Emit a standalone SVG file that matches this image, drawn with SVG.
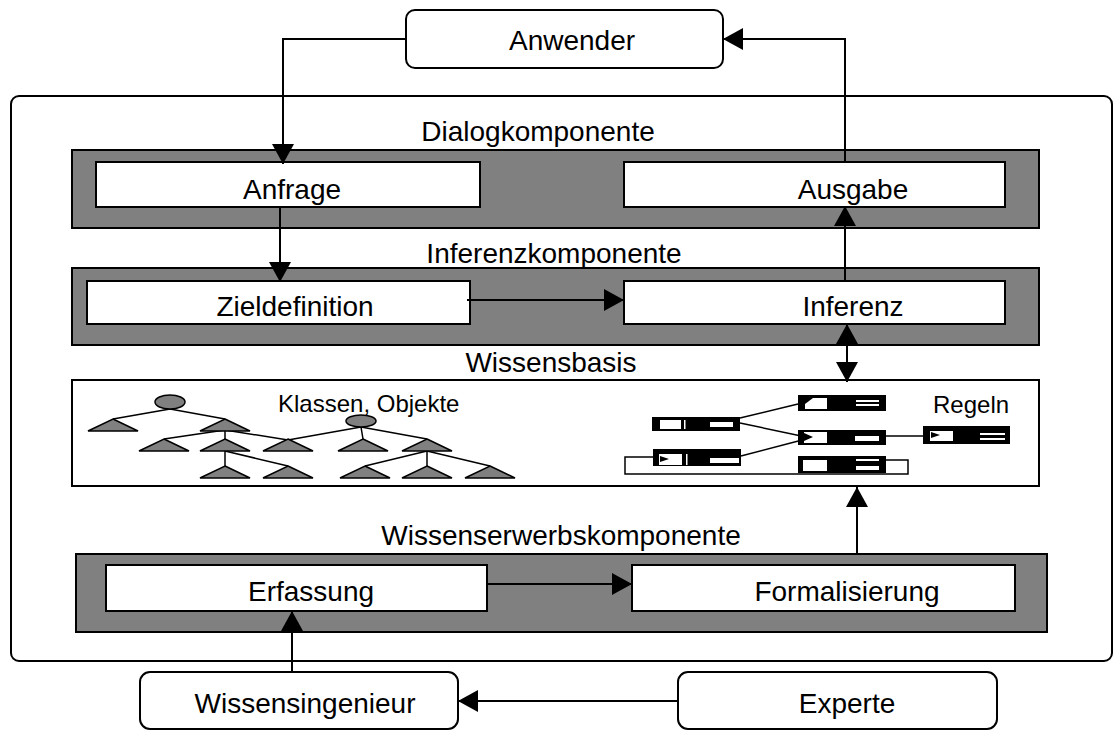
<svg xmlns="http://www.w3.org/2000/svg" width="1115" height="730" viewBox="0 0 1115 730">
  <defs>
    <marker id="arrow" markerUnits="userSpaceOnUse" markerWidth="20" markerHeight="22" refX="20" refY="11" orient="auto-start-reverse">
      <path d="M0,0 L20,11 L0,22 z" fill="#000"/>
    </marker>
    <style>
      .lbl { font-family: "Liberation Sans", Arial, sans-serif; font-size: 28px; fill: #000; text-anchor: middle; }
      .small { font-family: "Liberation Sans", Arial, sans-serif; font-size: 24px; fill: #000; }
      .frame { fill: none; stroke: #000; stroke-width: 2; }
      .actor { fill: #fff; stroke: #000; stroke-width: 2; }
      .band { fill: #808080; stroke: #000; stroke-width: 2; }
      .box { fill: #fff; stroke: #000; stroke-width: 2; }
      .conn { fill: none; stroke: #000; stroke-width: 2; }
      .tri { fill: #808080; stroke: #000; stroke-width: 1.5; stroke-linejoin: miter; }
      .tline { fill: none; stroke: #000; stroke-width: 1.5; }
      .rule { fill: #000; }
      .w { fill: #fff; }
    </style>
  </defs>
  <rect width="1115" height="730" fill="#fff"/>

  <!-- system boundary -->
  <rect id="system" class="frame" x="11" y="96" width="1101" height="565" rx="8"/>

  <!-- users -->
  <g id="anwender">
    <rect class="actor" x="406" y="10" width="317" height="58" rx="9"/>
    <text class="lbl" x="572" y="50">Anwender</text>
  </g>
  <g id="wissensingenieur">
    <rect class="actor" x="140" y="672" width="318" height="57" rx="10"/>
    <text class="lbl" x="305" y="713">Wissensingenieur</text>
  </g>
  <g id="experte">
    <rect class="actor" x="678" y="672" width="319" height="57" rx="10"/>
    <text class="lbl" x="847" y="713">Experte</text>
  </g>

  <!-- dialog component -->
  <g id="dialogkomponente">
    <text class="lbl" x="538" y="141">Dialogkomponente</text>
    <rect class="band" x="72" y="150" width="967" height="78"/>
  </g>
  <g id="anfrage">
    <rect class="box" x="96" y="162" width="384" height="45"/>
    <text class="lbl" x="292" y="199">Anfrage</text>
  </g>
  <g id="ausgabe">
    <rect class="box" x="624" y="162" width="381" height="45"/>
    <text class="lbl" x="853" y="199">Ausgabe</text>
  </g>

  <!-- inference component -->
  <g id="inferenzkomponente">
    <text class="lbl" x="554" y="263">Inferenzkomponente</text>
    <rect class="band" x="72" y="268" width="967" height="77"/>
  </g>
  <g id="zieldefinition">
    <rect class="box" x="87" y="281" width="383" height="43"/>
    <text class="lbl" x="295" y="316">Zieldefinition</text>
  </g>
  <g id="inferenz">
    <rect class="box" x="624" y="281" width="381" height="43"/>
    <text class="lbl" x="853" y="316">Inferenz</text>
  </g>

  <!-- knowledge base -->
  <g id="wissensbasis">
    <text class="lbl" x="551" y="372">Wissensbasis</text>
    <rect class="box" x="72" y="380" width="967" height="106"/>

    <!-- class / object hierarchy -->
    <g id="klassen">
      <g class="tline">
        <path d="M170,409 L113,419 M170,409 L225,419"/>
        <path d="M225,430 L164,439 M225,430 L225,439 M225,430 L288,440"/>
        <path d="M361,427 L288,440 M361,427 L363,439 M361,427 L427,439"/>
        <path d="M225,451 L225,466 M225,451 L288,466"/>
        <path d="M427,451 L365,466 M427,451 L427,466 M427,451 L490,466"/>
      </g>
      <ellipse class="tri" cx="170" cy="402" rx="15" ry="7"/>
      <ellipse class="tri" cx="361" cy="421" rx="15" ry="6"/>
      <polygon class="tri" points="113,419 138,431 88,431"/>
      <polygon class="tri" points="225,419 250,431 200,431"/>
      <polygon class="tri" points="164,439 189,451 139,451"/>
      <polygon class="tri" points="225,439 250,451 200,451"/>
      <polygon class="tri" points="288,439 313,451 263,451"/>
      <polygon class="tri" points="363,439 388,451 338,451"/>
      <polygon class="tri" points="427,439 452,451 402,451"/>
      <polygon class="tri" points="225,466 250,478 200,478"/>
      <polygon class="tri" points="288,466 313,478 263,478"/>
      <polygon class="tri" points="365,466 390,478 340,478"/>
      <polygon class="tri" points="427,466 452,478 402,478"/>
      <polygon class="tri" points="490,466 515,478 465,478"/>
      <text class="small" x="278" y="412">Klassen, Objekte</text>
    </g>

    <!-- rule network -->
    <g id="regeln">
      <g class="tline">
        <path d="M740,418 L798,404"/>
        <path d="M740,423 L806,437"/>
        <path d="M741,456 L806,439"/>
        <path d="M886,436 L923,436"/>
        <path d="M653,457 H625 V474 H908 V460 H886"/>
      </g>
      <!-- R1 -->
      <rect class="rule" x="652" y="417" width="88" height="14"/>
      <rect class="w" x="660" y="420" width="21" height="9"/>
      <rect class="w" x="684" y="420" width="1.5" height="9"/>
      <rect class="w" x="710" y="422" width="23" height="5"/>
      <!-- R2 -->
      <rect class="rule" x="798" y="395" width="88" height="16"/>
      <rect class="w" x="805" y="398" width="22" height="11"/>
      <path class="rule" d="M805,398 L813,398 L805,404 z"/>
      <rect class="w" x="856" y="400" width="23" height="2"/>
      <rect class="w" x="856" y="404" width="23" height="2"/>
      <!-- R3 -->
      <rect class="rule" x="798" y="430" width="88" height="15"/>
      <rect class="w" x="804" y="432" width="23" height="11"/>
      <path class="rule" d="M804,433 L813,437 L804,441 z"/>
      <rect class="w" x="855" y="436" width="24" height="5"/>
      <!-- R4 -->
      <rect class="rule" x="653" y="449" width="88" height="17"/>
      <rect class="w" x="659" y="454" width="23" height="11"/>
      <path class="rule" d="M660,456 L669,459 L660,462 z"/>
      <rect class="w" x="686" y="454" width="1.5" height="11"/>
      <rect class="w" x="710" y="458" width="29" height="5"/>
      <!-- R5 -->
      <rect class="rule" x="798" y="456" width="88" height="17"/>
      <rect class="w" x="803" y="460" width="24" height="11"/>
      <rect class="w" x="856" y="459" width="23" height="2"/>
      <rect class="w" x="856" y="466" width="23" height="4"/>
      <!-- R6 -->
      <rect class="rule" x="923" y="426" width="87" height="18"/>
      <rect class="w" x="930" y="431" width="23" height="10"/>
      <path class="rule" d="M931,432 L940,435 L931,438 z"/>
      <rect class="w" x="980" y="433" width="25" height="2"/>
      <rect class="w" x="980" y="438" width="25" height="2"/>
      <text class="small" x="933" y="413">Regeln</text>
    </g>
  </g>

  <!-- knowledge acquisition component -->
  <g id="wissenserwerbskomponente">
    <text class="lbl" x="561" y="545">Wissenserwerbskomponente</text>
    <rect class="band" x="76" y="554" width="971" height="78"/>
  </g>
  <g id="erfassung">
    <rect class="box" x="106" y="565" width="381" height="46"/>
    <text class="lbl" x="311" y="601">Erfassung</text>
  </g>
  <g id="formalisierung">
    <rect class="box" x="632" y="565" width="383" height="46"/>
    <text class="lbl" x="847" y="601">Formalisierung</text>
  </g>

  <!-- connectors -->
  <g id="connectors" class="conn">
    <path d="M406,39 H283 V164" marker-end="url(#arrow)"/>
    <path d="M845,162 V39 H723" marker-end="url(#arrow)"/>
    <path d="M280,207 V282" marker-end="url(#arrow)"/>
    <path d="M467,300 H624" marker-end="url(#arrow)"/>
    <path d="M845,281 V206" marker-end="url(#arrow)"/>
    <path d="M847,324 V382" marker-start="url(#arrow)" marker-end="url(#arrow)"/>
    <path d="M857,554 V487" marker-end="url(#arrow)"/>
    <path d="M487,584 H632" marker-end="url(#arrow)"/>
    <path d="M292,672 V611" marker-end="url(#arrow)"/>
    <path d="M678,701 H458" marker-end="url(#arrow)"/>
  </g>
</svg>
